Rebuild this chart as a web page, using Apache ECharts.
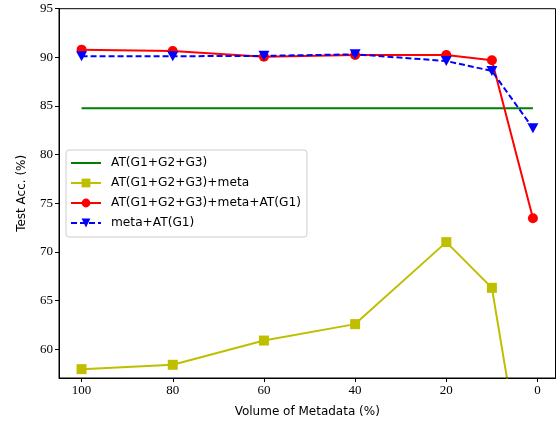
<!DOCTYPE html>
<html>
<head>
<meta charset="UTF-8">
<title>Test Acc vs Volume of Metadata</title>
<script src="https://cdn.jsdelivr.net/npm/echarts@6.0.0/dist/echarts.min.js"></script>
<style>
  body { margin: 0; background: #fff; }
  #chart { width: 560px; height: 423px; }
</style>
</head>
<body>
<div id="chart"></div>
<script>
// metadata volume (%) of each run
var volumes = [100, 80, 60, 40, 20, 10, 1];
var xTicks = [0, 20, 40, 60, 80, 100];
var yTicks = [60, 65, 70, 75, 80, 85, 90, 95];

var atAll = [84.76, 84.76];
var atAllVolumes = [100, 1];
var atAllMeta = [57.94, 58.39, 60.88, 62.57, 71.0, 66.3, 41.0];
var atAllMetaAtG1 = [90.79, 90.65, 90.07, 90.24, 90.24, 89.70, 73.46];
var metaAtG1 = [90.11, 90.11, 90.15, 90.31, 89.62, 88.6, 82.71];

var names = ['AT(G1+G2+G3)', 'AT(G1+G2+G3)+meta', 'AT(G1+G2+G3)+meta+AT(G1)', 'meta+AT(G1)'];

function pairs(xs, ys) {
    var out = [];
    for (var i = 0; i < ys.length; i++) out.push([xs[i], ys[i]]);
    return out;
}

var triDown = 'path://M0,0 L10,0 L5,9 Z';

var chart = echarts.init(document.getElementById('chart'));
chart.setOption({
    animation: false,
    grid: { left: 59, right: 4.5, top: 8.7, bottom: 45 },
    legend: {
        orient: 'vertical',
        left: 66, top: 150,
        padding: [7, 6, 8, 4],
        itemGap: 8,
        itemWidth: 30, itemHeight: 11,
        backgroundColor: '#fff',
        borderColor: '#cccccc', borderWidth: 1, borderRadius: 3,
        textStyle: { fontFamily: 'DejaVu Sans', fontSize: 12.2, color: '#000', padding: [0, 0, 0, 5] },
        data: [
            { name: names[0], itemStyle: { opacity: 0 } },
            names[1], names[2], names[3]
        ]
    },
    xAxis: {
        type: 'value', inverse: true,
        min: -3.95, max: 104.95,
        name: 'Volume of Metadata (%)', nameLocation: 'middle', nameGap: 28,
        nameTextStyle: { fontFamily: 'DejaVu Sans', fontSize: 12, color: '#000' },
        axisLine: { onZero: false, lineStyle: { color: '#000', width: 1 } },
        axisTick: { show: true, length: 4, customValues: xTicks, lineStyle: { color: '#000' } },
        axisLabel: { customValues: xTicks, margin: 6, fontFamily: 'Liberation Serif', fontSize: 13, color: '#000' },
        splitLine: { show: false }
    },
    yAxis: {
        type: 'value',
        min: 57.03, max: 95,
        name: 'Test Acc. (%)', nameLocation: 'middle', nameGap: 31,
        nameTextStyle: { fontFamily: 'DejaVu Sans', fontSize: 12, color: '#000' },
        axisLine: { show: true, onZero: false, lineStyle: { color: '#000', width: 1 } },
        axisTick: { show: true, length: 4, customValues: yTicks, lineStyle: { color: '#000' } },
        axisLabel: { customValues: yTicks, margin: 6, fontFamily: 'Liberation Serif', fontSize: 13, color: '#000' },
        splitLine: { show: false }
    },
    series: [
        {
            name: names[0], type: 'line', data: pairs(atAllVolumes, atAll),
            symbol: 'none', color: '#008000', lineStyle: { width: 2 }, z: 2
        },
        {
            name: names[1], type: 'line', data: pairs(volumes, atAllMeta),
            symbol: 'rect', symbolSize: 10, color: '#bfbf00', lineStyle: { width: 2 }, z: 3
        },
        {
            name: names[2], type: 'line', data: pairs(volumes, atAllMetaAtG1),
            symbol: 'circle', symbolSize: 10, color: '#ff0000', lineStyle: { width: 2 }, z: 4
        },
        {
            name: names[3], type: 'line', data: pairs(volumes, metaAtG1),
            symbol: triDown, symbolSize: [11, 10], color: '#0000ff',
            lineStyle: { width: 2, type: [6, 3] }, z: 5
        }
    ]
});
// frame on top and right like the reference
chart.setOption({
    graphic: [{
        type: 'rect', silent: true, z: 100,
        shape: { x: 59, y: 8.7, width: 496.5, height: 369.3 },
        style: { fill: 'none', stroke: '#000', lineWidth: 1 }
    }]
});
</script>
</body>
</html>
